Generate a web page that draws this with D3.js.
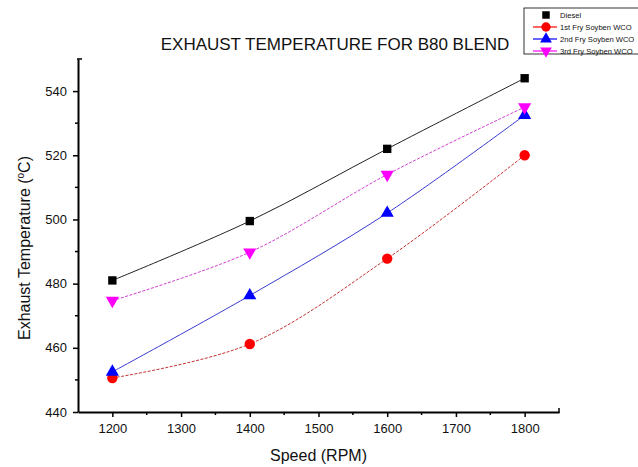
<!DOCTYPE html>
<html>
<head>
<meta charset="utf-8">
<script src="https://cdn.jsdelivr.net/npm/d3@7"></script>
<style>
	body { margin: 0; background: #fff; }
	text { font-family: Arial, "Liberation Sans", sans-serif; fill: #111; }
</style>
</head>
<body>
<div id="chart"></div>
<script>
// data
const speeds = [ 1200, 1400, 1600, 1800 ];
const diesel = [ 481, 499.5, 522, 544 ];
const fry1 = [ 450.6, 461.2, 487.8, 520 ];
const fry2 = [ 452.5, 476.3, 502, 532.5 ];
const fry3 = [ 474.7, 489.8, 514, 535 ];
const seriesNames = [ 'Diesel', '1st Fry Soyben WCO', '2nd Fry Soyben WCO', '3rd Fry Soyben WCO' ];
const xTicks = [ 1200, 1300, 1400, 1500, 1600, 1700, 1800 ];
const yTicks = [ 440, 460, 480, 500, 520, 540 ];

const width = 638, height = 467;
const margin = { top: 59, right: 79, bottom: 55, left: 78 };

const series = [
	{ name: seriesNames[ 0 ], values: diesel, color: '#000', line: '#222', dash: null, symbol: d3.symbolSquare, size: 70, rot: 0 },
	{ name: seriesNames[ 1 ], values: fry1, color: '#f00', line: '#c83030', dash: '3,1.5', symbol: d3.symbolCircle, size: 85, rot: 0 },
	{ name: seriesNames[ 2 ], values: fry2, color: '#00f', line: '#3a3ad0', dash: null, symbol: d3.symbolTriangle, size: 75, rot: 0 },
	{ name: seriesNames[ 3 ], values: fry3, color: '#f0f', line: '#d040d0', dash: '3,1.5', symbol: d3.symbolTriangle, size: 75, rot: 180 },
];

const svg = d3.select( '#chart' ).append( 'svg' )
	.attr( 'width', width )
	.attr( 'height', height );

const x = d3.scaleLinear().domain( [ 1150, 1850 ] ).range( [ margin.left, width - margin.right ] );
const y = d3.scaleLinear().domain( [ 440, 550 ] ).range( [ height - margin.bottom, margin.top ] );

// axes
const xAxis = svg.append( 'g' )
	.attr( 'transform', `translate(0,${ y( 440 ) })` )
	.call( d3.axisBottom( x ).tickValues( xTicks ).tickFormat( d3.format( 'd' ) ).tickSize( 5 ).tickSizeOuter( 0 ).tickPadding( 7 ) );
xAxis.selectAll( 'text' ).style( 'font-size', '13px' );

const yAxis = svg.append( 'g' )
	.attr( 'transform', `translate(${ x( 1150 ) },0)` )
	.call( d3.axisLeft( y ).tickValues( yTicks ).tickFormat( d3.format( 'd' ) ).tickSize( 5 ).tickSizeOuter( 0 ).tickPadding( 6 ) );
yAxis.selectAll( 'text' ).style( 'font-size', '13px' );

[ xAxis, yAxis ].forEach( ( g ) => {
	g.select( '.domain' ).attr( 'stroke', '#000' ).attr( 'stroke-width', 2 );
	g.selectAll( '.tick line' ).attr( 'stroke', '#000' ).attr( 'stroke-width', 1.5 );
} );

// minor ticks
svg.append( 'g' ).selectAll( 'line' )
	.data( d3.range( 1250, 1800, 100 ) )
	.join( 'line' )
	.attr( 'x1', ( d ) => x( d ) ).attr( 'x2', ( d ) => x( d ) )
	.attr( 'y1', y( 440 ) ).attr( 'y2', y( 440 ) + 3 )
	.attr( 'stroke', '#000' ).attr( 'stroke-width', 1.5 );
svg.append( 'g' ).selectAll( 'line' )
	.data( d3.range( 450, 550, 20 ) )
	.join( 'line' )
	.attr( 'x1', x( 1150 ) ).attr( 'x2', x( 1150 ) - 3 )
	.attr( 'y1', ( d ) => y( d ) ).attr( 'y2', ( d ) => y( d ) )
	.attr( 'stroke', '#000' ).attr( 'stroke-width', 1.5 );

// end stubs like the original
svg.append( 'line' )
	.attr( 'x1', x( 1150 ) - 1 ).attr( 'x2', x( 1150 ) + 4 )
	.attr( 'y1', y( 550 ) ).attr( 'y2', y( 550 ) )
	.attr( 'stroke', '#000' ).attr( 'stroke-width', 1.5 );
svg.append( 'line' )
	.attr( 'x1', x( 1850 ) ).attr( 'x2', x( 1850 ) )
	.attr( 'y1', y( 440 ) + 1 ).attr( 'y2', y( 440 ) - 4 )
	.attr( 'stroke', '#000' ).attr( 'stroke-width', 1.5 );

// lines
const line = d3.line()
	.x( ( d ) => x( d[ 0 ] ) )
	.y( ( d ) => y( d[ 1 ] ) )
	.curve( d3.curveCatmullRom.alpha( 0.5 ) );

series.forEach( ( s ) => {
	const pts = speeds.map( ( sp, i ) => [ sp, s.values[ i ] ] );
	svg.append( 'path' )
		.datum( pts )
		.attr( 'd', line )
		.attr( 'fill', 'none' )
		.attr( 'stroke', s.line )
		.attr( 'stroke-width', 1 )
		.attr( 'stroke-dasharray', s.dash );
} );

// markers
series.forEach( ( s ) => {
	svg.append( 'g' ).selectAll( 'path' )
		.data( speeds.map( ( sp, i ) => [ sp, s.values[ i ] ] ) )
		.join( 'path' )
		.attr( 'd', d3.symbol().type( s.symbol ).size( s.size ) )
		.attr( 'transform', ( d ) => `translate(${ x( d[ 0 ] ) },${ y( d[ 1 ] ) }) rotate(${ s.rot })` )
		.attr( 'fill', s.color );
} );

// title
svg.append( 'text' )
	.attr( 'x', 335 )
	.attr( 'y', 50 )
	.attr( 'text-anchor', 'middle' )
	.style( 'font-size', '17px' )
	.text( 'EXHAUST TEMPERATURE FOR B80 BLEND' );

// axis labels
svg.append( 'text' )
	.attr( 'x', x( 1500 ) )
	.attr( 'y', 461 )
	.attr( 'text-anchor', 'middle' )
	.style( 'font-size', '16px' )
	.text( 'Speed (RPM)' );

const yLabel = svg.append( 'text' )
	.attr( 'transform', 'translate(30,248) rotate(-90)' )
	.attr( 'text-anchor', 'middle' )
	.style( 'font-size', '16px' );
yLabel.append( 'tspan' ).text( 'Exhaust Temperature (' );
yLabel.append( 'tspan' ).attr( 'dy', -6 ).style( 'font-size', '10px' ).text( 'o' );
yLabel.append( 'tspan' ).attr( 'dy', 6 ).text( 'C)' );

// legend (box runs off the right edge, as in the original)
const legend = svg.append( 'g' ).attr( 'transform', 'translate(524,8)' );
legend.append( 'rect' )
	.attr( 'width', 130 ).attr( 'height', 46 )
	.attr( 'fill', '#fff' ).attr( 'stroke', '#000' ).attr( 'stroke-width', 0.8 );
series.forEach( ( s, i ) => {
	const row = legend.append( 'g' ).attr( 'transform', `translate(0,${ 7 + i * 12 })` );
	if ( i > 0 ) {
		row.append( 'line' )
			.attr( 'x1', 9 ).attr( 'x2', 33 )
			.attr( 'stroke', s.color ).attr( 'stroke-width', 1.2 );
	}
	row.append( 'path' )
		.attr( 'd', d3.symbol().type( s.symbol ).size( s.size * 0.8 ) )
		.attr( 'transform', `translate(22,0) rotate(${ s.rot })` )
		.attr( 'fill', s.color );
	row.append( 'text' )
		.attr( 'x', 36 )
		.attr( 'y', 3 )
		.style( 'font-size', '7.6px' )
		.text( s.name );
} );
</script>
</body>
</html>
